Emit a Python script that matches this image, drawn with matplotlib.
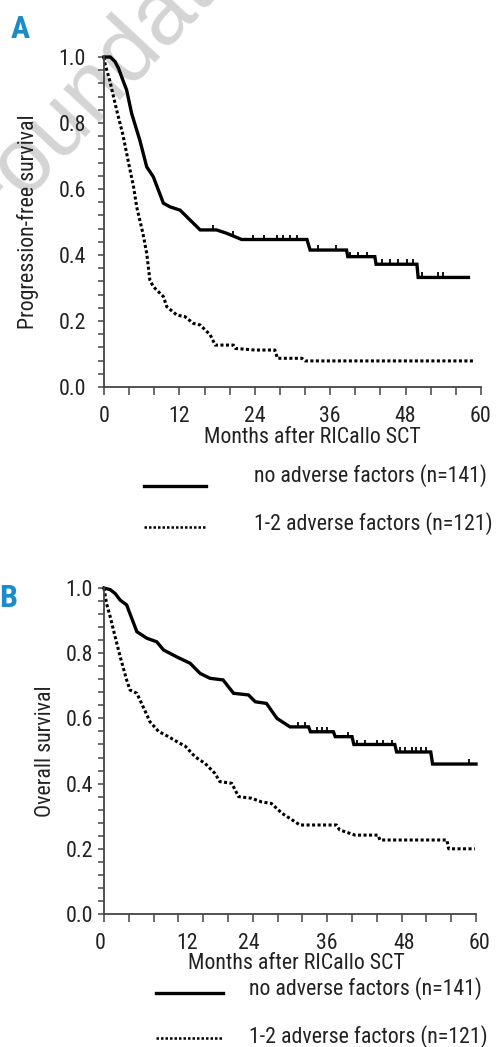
"""
plot.py

Kaplan-Meier style survival curves (PFS and OS) by adverse factors.
"""

import matplotlib
matplotlib.use("Agg")

import matplotlib.pyplot as plt
import numpy as np
from matplotlib import font_manager as fm
from matplotlib.lines import Line2D
from matplotlib.ticker import MultipleLocator, FormatStrFormatter
from matplotlib.transforms import ScaledTranslation


# ==========================================================
# Data
# ==========================================================

# Panel A - progression-free survival, no adverse factors
pfs_no_t = [0, 1.0, 1.75, 2.3, 3.1, 3.6, 4.4, 5.7, 6.8, 7.85, 9.45, 10.5,
            12.1, 13.7, 15.3, 17.9, 19.5, 21.9, 32.3, 32.8, 38.6, 38.8,
            43.1, 43.3, 49.8, 50.0, 58.0]
pfs_no_s = [1.0, 1.0, 0.986, 0.966, 0.925, 0.9, 0.829, 0.748, 0.667, 0.637,
            0.557, 0.546, 0.536, 0.506, 0.476, 0.476, 0.466, 0.447, 0.447,
            0.415, 0.415, 0.395, 0.395, 0.372, 0.372, 0.332, 0.332]
pfs_no_cens = [17.4, 20.6, 23.7, 25.4, 27.5, 28.5, 29.6, 30.7, 34.1, 37.0,
               39.2, 40.5, 41.8, 44.2, 45.5, 46.8, 48.2, 49.2, 50.6, 53.2,
               54.0]

# Panel A - progression-free survival, 1-2 adverse factors
pfs_adv_t = [0, 0.2, 0.9, 2.0, 3.0, 3.9, 4.7, 5.2, 6.2, 6.8, 7.3, 7.85,
             9.45, 10.0, 11.6, 12.9, 14.2, 15.3, 16.9, 17.7, 20.6, 20.9,
             24.0, 27.2, 27.6, 31.5, 32.0, 58.8]
pfs_adv_s = [1.0, 0.976, 0.93, 0.84, 0.765, 0.68, 0.607, 0.546, 0.465,
             0.405, 0.324, 0.304, 0.274, 0.243, 0.218, 0.213, 0.193, 0.188,
             0.158, 0.127, 0.127, 0.117, 0.112, 0.112, 0.087, 0.087, 0.079,
             0.079]

# Panel B - overall survival, no adverse factors
os_no_t = [0, 1.0, 1.8, 2.6, 3.65, 5.3, 6.9, 8.5, 9.6, 11.7, 13.9, 15.5,
           17.1, 19.2, 20.9, 23.3, 24.4, 26.2, 27.9, 30.0, 33.0, 33.3, 37.0,
           37.3, 40.0, 40.3, 46.9, 47.2, 52.7, 53.0, 60.0]
os_no_s = [1.0, 0.995, 0.983, 0.963, 0.948, 0.866, 0.846, 0.835, 0.81,
           0.789, 0.769, 0.738, 0.723, 0.718, 0.677, 0.672, 0.651, 0.646,
           0.6, 0.574, 0.574, 0.559, 0.559, 0.544, 0.544, 0.52, 0.52, 0.497,
           0.497, 0.46, 0.46]
os_no_cens = [31.3, 32.4, 34.3, 35.1, 35.9, 39.4, 40.8, 42.1, 44.0, 45.0,
              46.4, 47.7, 48.5, 49.6, 50.4, 51.2, 52.0, 58.8]

# Panel B - overall survival, 1-2 adverse factors
os_adv_t = [0, 0.4, 1.0, 1.8, 2.6, 3.65, 4.2, 5.3, 6.3, 7.4, 8.8, 10.4, 12.0,
            13.1, 14.7, 16.3, 17.9, 18.7, 20.6, 21.7, 23.8, 25.4, 27.0, 28.7,
            30.8, 31.6, 37.5, 38.0, 40.5, 44.2, 44.5, 55.3, 55.6, 59.8]
os_adv_s = [1.0, 0.953, 0.912, 0.85, 0.79, 0.718, 0.687, 0.677, 0.636, 0.59,
            0.56, 0.544, 0.526, 0.515, 0.482, 0.462, 0.431, 0.406, 0.401,
            0.36, 0.355, 0.344, 0.339, 0.309, 0.283, 0.273, 0.273, 0.258,
            0.242, 0.242, 0.227, 0.227, 0.2, 0.2]

x_ticks = [0, 12, 24, 36, 48, 60]
y_ticks = [0.0, 0.2, 0.4, 0.6, 0.8, 1.0]

label_no = "no adverse factors (n=141)"
label_adv = "1-2 adverse factors (n=121)"


# ==========================================================
# Fonts: the original uses a condensed grotesque
# ==========================================================

def pick_narrow_font():

    wanted = ["Roboto Condensed", "Liberation Sans Narrow",
              "DejaVu Sans Condensed", "Noto Sans Condensed",
              "Open Sans Condensed"]
    found = {}
    for f in fm.fontManager.ttflist:
        tag = (f.name + " " + f.fname).lower()
        if ("condensed" in tag or "narrow" in tag) and f.style == "normal":
            found.setdefault(f.name, f)
    for name in wanted:
        if name in found:
            return found[name].name, found[name].stretch
    if found:
        entry = sorted(found.values(), key=lambda e: e.name)[0]
        return entry.name, entry.stretch
    return "Liberation Sans", "normal"


FONT_NAME, FONT_STRETCH = pick_narrow_font()

plt.rcParams["font.family"] = [FONT_NAME, "Liberation Sans", "DejaVu Sans"]
plt.rcParams["font.stretch"] = FONT_STRETCH


# ==========================================================
# Style
# ==========================================================

W, H = 504, 1047
BLUE = "#1a8dc9"
AXIS = "#444444"
TEXT = "#222222"
DOTS = (0, (1.0, 0.8))


def fx(px):
    return px / W


def fy(py):
    return 1 - py / H


fig = plt.figure(figsize=(W / 100, H / 100), dpi=100)

# size the text so the legend entry is as wide as in the original (233 px)
_probe = fig.text(0, 0, label_no, fontsize=17)
_w = _probe.get_window_extent(fig.canvas.get_renderer()).width
_probe.remove()
FS = min(18.0, 17 * 233 / _w)
plt.rcParams["font.size"] = FS


def style_axis(ax, ypad):

    for side in ("top", "right"):
        ax.spines[side].set_visible(False)
    for side in ("left", "bottom"):
        ax.spines[side].set_color(AXIS)
        ax.spines[side].set_linewidth(1.3)

    ax.set_xlim(0, 60)
    ax.set_ylim(0, 1.0)
    ax.set_xticks(x_ticks)
    ax.set_yticks(y_ticks)
    ax.xaxis.set_minor_locator(MultipleLocator(4))
    ax.yaxis.set_minor_locator(MultipleLocator(0.04))
    ax.yaxis.set_major_formatter(FormatStrFormatter("%.1f"))

    ax.tick_params(axis="x", which="both", direction="out", length=6,
                   width=1.1, color=AXIS, pad=8, labelsize=FS,
                   labelcolor=TEXT)
    ax.tick_params(axis="y", which="both", direction="out", length=4,
                   width=1.1, color=AXIS, pad=ypad, labelsize=FS,
                   labelcolor=TEXT)
    ax.patch.set_alpha(0)


def draw_curves(ax, t_no, s_no, cens, t_adv, s_adv):

    ax.plot(t_no, s_no, color="black", lw=2.4, clip_on=False,
            solid_joinstyle="miter")
    ax.plot(cens, np.interp(cens, t_no, s_no) + 0.006, "|", color="black",
            ms=4, mew=1.3, clip_on=False)
    ax.plot(t_adv, s_adv, color="black", lw=2.2, ls=DOTS, clip_on=False)


def draw_legend(fig, x0, x1, xt, rows):

    for (yline, ybase, text, ls, lw) in rows:
        fig.add_artist(Line2D([fx(x0), fx(x1)], [fy(yline), fy(yline)],
                              color="black", lw=lw, ls=ls,
                              transform=fig.transFigure))
        fig.text(fx(xt), fy(ybase), text, ha="left", va="baseline",
                 fontsize=FS, color=TEXT)


# ==========================================================
# Figure
# ==========================================================

# faint watermark behind everything
fig.text(fx(-14), fy(236), "Foundation", rotation=47, rotation_mode="anchor",
         ha="left", va="baseline", fontsize=66, color="#d4d4d4",
         family=["Liberation Sans", "DejaVu Sans"], stretch="normal",
         zorder=-5)

# ---------------- Panel A ----------------
ax_a = fig.add_axes([fx(104), fy(387), (481 - 104) / W, (387 - 57) / H])
style_axis(ax_a, ypad=9)
draw_curves(ax_a, pfs_no_t, pfs_no_s, pfs_no_cens, pfs_adv_t, pfs_adv_s)
ax_a.set_ylabel("Progression-free survival", fontsize=FS, color=TEXT)
ax_a.yaxis.set_label_coords(-0.172, 0.5)
ax_a.set_xlabel("Months after RICallo SCT", fontsize=FS, color=TEXT)
ax_a.xaxis.set_label_coords(0.554, -0.122)

fig.text(fx(11), fy(38), "A", fontsize=23, weight="bold", color=BLUE,
         ha="left", va="baseline")

draw_legend(fig, 144, 206, 254, [
    (486, 482, label_no, "-", 2.4),
    (527, 530, label_adv, DOTS, 1.8),
])

# ---------------- Panel B ----------------
ax_b = fig.add_axes([fx(104), fy(914), (476 - 104) / W, (914 - 588) / H])
style_axis(ax_b, ypad=4)
draw_curves(ax_b, os_no_t, os_no_s, os_no_cens, os_adv_t, os_adv_s)
ax_b.set_ylabel("Overall survival", fontsize=FS, color=TEXT)
ax_b.yaxis.set_label_coords(-0.13, 0.5)
ax_b.set_xlabel("Months after RICallo SCT", fontsize=FS, color=TEXT)
ax_b.xaxis.set_label_coords(0.517, -0.12)

# the tick labels in panel B sit slightly off their ticks
for lab, dx in zip(ax_b.get_xticklabels(), [-4, 9, -4, 0, 3, 4]):
    lab.set_transform(lab.get_transform()
                      + ScaledTranslation(dx / 100, 0, fig.dpi_scale_trans))

fig.text(fx(-1), fy(607), "B", fontsize=23, weight="bold", color=BLUE,
         ha="left", va="baseline")

draw_legend(fig, 156, 223, 249, [
    (993, 995, label_no, "-", 2.4),
    (1038, 1043, label_adv, DOTS, 1.8),
])

fig.savefig("out.png", dpi=100)
plt.close(fig)
